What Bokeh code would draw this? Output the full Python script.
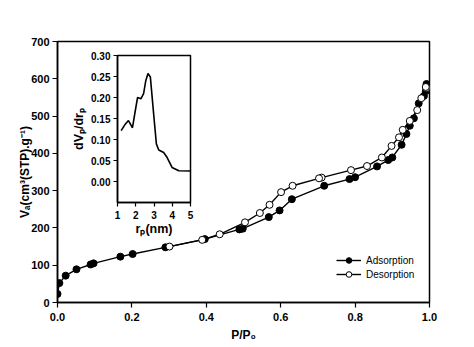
from bokeh.plotting import figure
from bokeh.layouts import column
from bokeh.models import FixedTicker, Legend, LegendItem, Range1d
from bokeh.embed import file_html
from bokeh.resources import INLINE

# ---------------- data ----------------
ads_x = [0.000, 0.005, 0.022, 0.051, 0.089, 0.097, 0.169, 0.202, 0.290, 0.396,
         0.489, 0.498, 0.568, 0.597, 0.630, 0.717, 0.785, 0.800, 0.859, 0.889,
         0.900, 0.925, 0.938, 0.947, 0.958, 0.971, 0.985, 0.990, 0.992]
ads_y = [23, 52, 72, 89, 102, 105, 123, 130, 148, 170,
         196, 198, 229, 247, 277, 313, 331, 336, 365, 382,
         389, 423, 452, 474, 494, 534, 554, 567, 586]

des_x = [0.992, 0.990, 0.978, 0.967, 0.947, 0.928, 0.918, 0.898, 0.872, 0.832,
         0.789, 0.710, 0.703, 0.632, 0.601, 0.570, 0.544, 0.504, 0.436, 0.389,
         0.301]
des_y = [575, 578, 548, 516, 487, 463, 443, 420, 389, 366,
         355, 335, 333, 313, 296, 262, 240, 215, 183, 168,
         150]

pore_r = [1.2, 1.4, 1.6, 1.82, 2.0, 2.1, 2.28, 2.43, 2.55, 2.67, 2.8, 2.98,
          3.13, 3.26, 3.53, 3.72, 3.99, 4.36, 5.0]
pore_dv = [0.121, 0.135, 0.145, 0.128, 0.175, 0.200, 0.197, 0.209, 0.240, 0.257,
           0.249, 0.161, 0.0895, 0.075, 0.069, 0.057, 0.0335, 0.0256, 0.025]

x_ticks = [0.0, 0.2, 0.4, 0.6, 0.8, 1.0]
x_tick_labels = ["0.0", "0.2", "0.4", "0.6", "0.8", "1.0"]
y_ticks = [0, 100, 200, 300, 400, 500, 600, 700]
y_tick_labels = ["0", "100", "200", "300", "400", "500", "600", "700"]
in_x_ticks = [1, 2, 3, 4, 5]
in_x_tick_labels = ["1", "2", "3", "4", "5"]
in_y_ticks = [0.0, 0.05, 0.10, 0.15, 0.20, 0.25, 0.30]
in_y_tick_labels = ["0.00", "0.05", "0.10", "0.15", "0.20", "0.25", "0.30"]

series_names = ["Adsorption", "Desorption"]
x_title = "P/P\u2080"
y_title = "V\u2090(cm\u00b3(STP).g\u207b\u00b9)"
inset_x_title = "r\u209a(nm)"
inset_y_title = "dV\u209a/dr\u209a"

FONT = "Liberation Sans"


def style_axes(fig, tick_size, xstand, ystand, tick_out, title_size):
    fig.outline_line_color = "black"
    fig.outline_line_width = 1.5
    fig.xgrid.grid_line_color = None
    fig.ygrid.grid_line_color = None
    for ax in (fig.xaxis[0], fig.yaxis[0]):
        ax.axis_line_color = "black"
        ax.axis_line_width = 1.5
        ax.major_tick_line_color = "black"
        ax.major_tick_line_width = 1.2
        ax.major_tick_out = tick_out
        ax.major_tick_in = 0
        ax.minor_tick_line_color = None
        ax.major_label_text_font = FONT
        ax.major_label_text_font_style = "bold"
        ax.major_label_text_font_size = tick_size
        ax.major_label_text_color = "black"
        ax.axis_label_text_font = FONT
        ax.axis_label_text_font_style = "bold"
        ax.axis_label_text_font_size = title_size
        ax.axis_label_text_color = "black"
    fig.xaxis[0].major_label_standoff = xstand
    fig.yaxis[0].major_label_standoff = ystand


# ---------------- main figure ----------------
p = figure(width=474, height=347, output_backend="svg", toolbar_location=None,
           x_range=Range1d(0, 1), y_range=Range1d(0, 700),
           min_border_left=52, min_border_right=45, min_border_top=41,
           min_border_bottom=45)
p.background_fill_color = "white"
p.border_fill_color = "white"
style_axes(p, "11px", 5, 3, 5, "12px")
p.xaxis[0].ticker = FixedTicker(ticks=x_ticks)
p.yaxis[0].ticker = FixedTicker(ticks=y_ticks)
p.xaxis[0].major_label_overrides = dict(zip(x_ticks, x_tick_labels))
p.yaxis[0].major_label_overrides = dict(zip(y_ticks, y_tick_labels))
p.xaxis[0].axis_label = x_title
p.yaxis[0].axis_label = y_title
p.xaxis[0].axis_label_standoff = 4
p.yaxis[0].axis_label_standoff = -4

l1 = p.line(ads_x, ads_y, line_color="black", line_width=1.4)
s1 = p.scatter(ads_x, ads_y, size=7, fill_color="black", line_color="black")
l2 = p.line(des_x, des_y, line_color="black", line_width=1.4)
s2 = p.scatter(des_x, des_y, size=7, fill_color="white", line_color="black",
               line_width=1)

legend = Legend(items=[LegendItem(label=series_names[0], renderers=[l1, s1]),
                       LegendItem(label=series_names[1], renderers=[l2, s2])],
                location=(279, 21), orientation="vertical")
legend.border_line_alpha = 0
legend.background_fill_alpha = 0
legend.padding = 0
legend.margin = 0
legend.spacing = 0
legend.glyph_width = 25
legend.glyph_height = 14
legend.label_height = 14
legend.label_standoff = 5
legend.label_text_font = FONT
legend.label_text_font_size = "10px"
legend.label_text_color = "black"
p.add_layout(legend)

# ---------------- inset figure ----------------
inset = figure(frame_width=73, frame_height=147, output_backend="svg",
               toolbar_location=None,
               x_range=Range1d(1, 5), y_range=Range1d(-0.05, 0.30),
               min_border_left=57, min_border_right=5, min_border_top=10,
               min_border_bottom=38)
inset.background_fill_alpha = 0
inset.border_fill_alpha = 0
style_axes(inset, "10px", 4, 3, 4, "12.5px")
inset.xaxis[0].ticker = FixedTicker(ticks=in_x_ticks)
inset.yaxis[0].ticker = FixedTicker(ticks=in_y_ticks)
inset.xaxis[0].major_label_overrides = dict(zip(in_x_ticks, in_x_tick_labels))
inset.yaxis[0].major_label_overrides = dict(zip(in_y_ticks, in_y_tick_labels))
inset.xaxis[0].axis_label = inset_x_title
inset.yaxis[0].axis_label = inset_y_title
inset.xaxis[0].axis_label_standoff = 0
inset.yaxis[0].axis_label_standoff = 2
inset.line(pore_r, pore_dv, line_color="black", line_width=1.6)

inset.styles = {"position": "absolute", "left": "60px", "top": "45px",
                "z-index": "2"}

layout = column(p, inset)

open("out.html", "w").write(file_html(layout, INLINE))
